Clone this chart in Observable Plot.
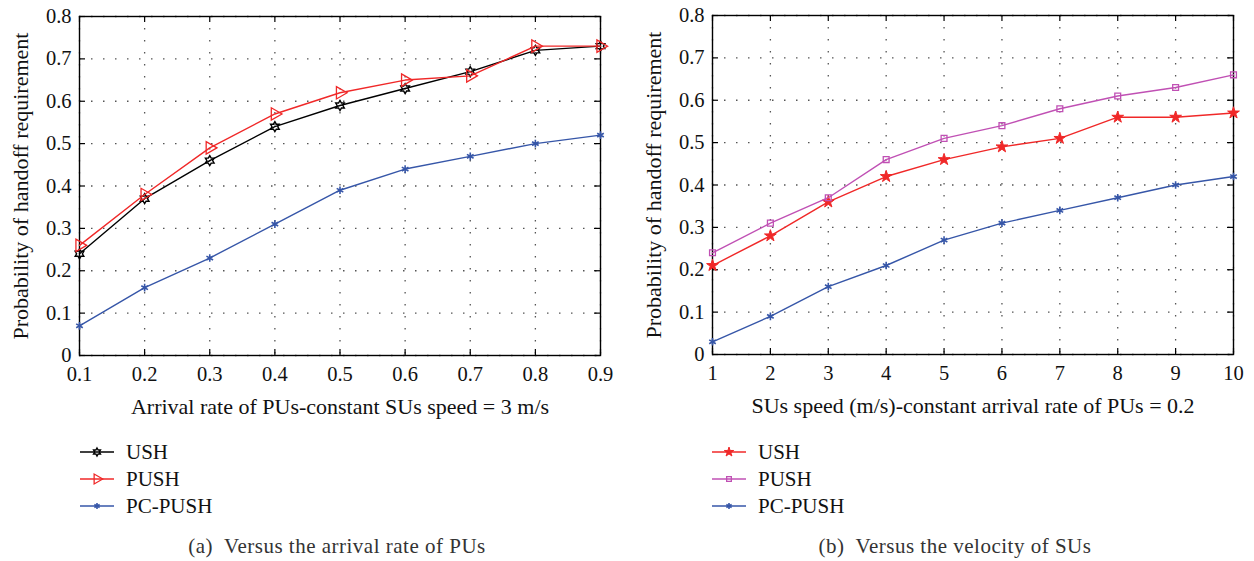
<!DOCTYPE html>
<html>
<head>
<meta charset="utf-8">
<script src="https://cdn.jsdelivr.net/npm/d3@7"></script>
<script src="https://cdn.jsdelivr.net/npm/@observablehq/plot@0.6"></script>
<style>
  html, body { margin: 0; padding: 0; background: #fff; }
  #root { position: relative; width: 1254px; height: 561px; overflow: hidden; font-family: 'Liberation Serif', 'Times New Roman', serif; }
  .panel { position: absolute; top: 0; }
  .leg { position: absolute; font-size: 21px; color: #111; display: flex; align-items: center; height: 24px; }
  .leg svg { margin-right: 12px; }
  .cap { position: absolute; font-size: 21px; letter-spacing: 0.5px; color: #333; white-space: pre; transform: translateX(-50%); }
</style>
</head>
<body>
<div id="root"></div>
<script>
// ---------- data ----------
const xA = [0.1, 0.2, 0.3, 0.4, 0.5, 0.6, 0.7, 0.8, 0.9];
const ushA  = [0.24, 0.37, 0.46, 0.54, 0.59, 0.63, 0.67, 0.72, 0.73];
const pushA = [0.26, 0.38, 0.49, 0.57, 0.62, 0.65, 0.66, 0.73, 0.73];
const pcA   = [0.07, 0.16, 0.23, 0.31, 0.39, 0.44, 0.47, 0.50, 0.52];

const xB = [1, 2, 3, 4, 5, 6, 7, 8, 9, 10];
const ushB  = [0.21, 0.28, 0.36, 0.42, 0.46, 0.49, 0.51, 0.56, 0.56, 0.57];
const pushB = [0.24, 0.31, 0.37, 0.46, 0.51, 0.54, 0.58, 0.61, 0.63, 0.66];
const pcB   = [0.03, 0.09, 0.16, 0.21, 0.27, 0.31, 0.34, 0.37, 0.40, 0.42];

const yTicks = [0, 0.1, 0.2, 0.3, 0.4, 0.5, 0.6, 0.7, 0.8];
const seriesNames = ["USH", "PUSH", "PC-PUSH"];
const yLabel = "Probability of handoff requirement";
const xLabelA = "Arrival rate of PUs-constant SUs speed = 3 m/s";
const xLabelB = "SUs speed (m/s)-constant arrival rate of PUs = 0.2";
const captionA = "(a)\u2002Versus the arrival rate of PUs";
const captionB = "(b)\u2002Versus the velocity of SUs";

// ---------- styles ----------
const BLACK = "#000000", RED = "#f02828", BLUE = "#3656a8", MAGENTA = "#c050b4";

// hexagram (MATLAB 'h') custom symbol
const hexagram = {
  draw(ctx, size) {
    const R = Math.sqrt(size / Math.PI) * 1.25, r = R / Math.sqrt(3);
    for (let i = 0; i < 12; i++) {
      const a = -Math.PI / 2 + i * Math.PI / 6;
      const rr = i % 2 === 0 ? R : r;
      const px = rr * Math.cos(a), py = rr * Math.sin(a);
      if (i === 0) ctx.moveTo(px, py); else ctx.lineTo(px, py);
    }
    ctx.closePath();
  }
};

const stylesA = [
  {name: "USH", values: ushA, color: BLACK, symbol: hexagram, fill: "none", r: 4, sw: 1.4, rotate: 0},
  {name: "PUSH", values: pushA, color: RED, symbol: "triangle", fill: "none", r: 4.6, sw: 1.3, rotate: 90},
  {name: "PC-PUSH", values: pcA, color: BLUE, symbol: "asterisk", fill: "none", r: 3.6, sw: 1.6, rotate: 0}
];
const stylesB = [
  {name: "USH", values: ushB, color: RED, symbol: "star", fill: RED, r: 3.7, sw: 1, rotate: 0},
  {name: "PUSH", values: pushB, color: MAGENTA, symbol: "square", fill: "none", r: 3.3, sw: 1.3, rotate: 0},
  {name: "PC-PUSH", values: pcB, color: BLUE, symbol: "asterisk", fill: "none", r: 3.6, sw: 1.6, rotate: 0}
];

function makeChart({xs, styles, xDomain, xFmt, xLabel, mL, mR, mT, mB}) {
  const W = 627, H = 430;
  const fw = W - mL - mR, fh = H - mT - mB, tl = 6;
  const marks = [
    Plot.gridX(xs, {x: d => d, stroke: "#555", strokeOpacity: 1, strokeWidth: 1.3, strokeDasharray: "1.5,10.5"}),
    Plot.gridY(yTicks, {y: d => d, stroke: "#555", strokeOpacity: 1, strokeWidth: 1.3, strokeDasharray: "1.5,10.5"}),
    Plot.axisX({ticks: xs, tickSize: 0, tickPadding: 11, tickFormat: xFmt, label: null, fontSize: 20.5}),
    Plot.axisY({ticks: yTicks, tickSize: 0, tickPadding: 8, tickFormat: d => d === 0 ? "0" : d3.format(".1f")(d), label: null, fontSize: 20.5}),
    Plot.tickX(xs, {x: d => d, insetTop: fh - tl, stroke: "#000", strokeWidth: 1.2}),
    Plot.tickX(xs, {x: d => d, insetBottom: fh - tl, stroke: "#000", strokeWidth: 1.2}),
    Plot.tickY(yTicks, {y: d => d, insetRight: fw - tl, stroke: "#000", strokeWidth: 1.2}),
    Plot.tickY(yTicks, {y: d => d, insetLeft: fw - tl, stroke: "#000", strokeWidth: 1.2}),
    Plot.frame({stroke: "#000", strokeWidth: 1.4})
  ];
  for (const s of styles) {
    const data = xs.map((x, i) => ({x, y: s.values[i], series: s.name}));
    marks.push(Plot.line(data, {x: "x", y: "y", stroke: s.color, strokeWidth: 1.4}));
    marks.push(Plot.dot(data, {x: "x", y: "y", symbol: () => s.symbol, r: s.r, stroke: s.color, fill: s.fill, strokeWidth: s.sw, rotate: s.rotate}));
  }
  marks.push(Plot.text([xLabel], {text: d => d, frameAnchor: "bottom", dy: 51, lineAnchor: "middle", textAnchor: "middle", fontSize: 22, fill: "#111"}));
  marks.push(Plot.text([yLabel], {text: d => d, frameAnchor: "left", dx: -59, rotate: -90, lineAnchor: "middle", textAnchor: "middle", fontSize: 22, fill: "#111"}));
  return Plot.plot({
    width: W, height: H,
    marginLeft: mL, marginRight: mR, marginTop: mT, marginBottom: mB,
    x: {domain: xDomain}, y: {domain: [0, 0.8]},
    symbol: {type: "identity"},
    style: {fontFamily: "'Liberation Serif', 'Times New Roman', serif", fontSize: "21px", color: "#111", background: "transparent", overflow: "visible"},
    marks
  });
}

const root = document.getElementById("root");

const chartA = makeChart({xs: xA, styles: stylesA, xDomain: [0.1, 0.9], xFmt: d3.format(".1f"), xLabel: xLabelA, mL: 79, mR: 27, mT: 16, mB: 75});
const pa = document.createElement("div"); pa.className = "panel"; pa.style.left = "0px"; pa.appendChild(chartA); root.appendChild(pa);

const chartB = makeChart({xs: xB, styles: stylesB, xDomain: [1, 10], xFmt: d3.format("d"), xLabel: xLabelB, mL: 85, mR: 21, mT: 15, mB: 76});
const pb = document.createElement("div"); pb.className = "panel"; pb.style.left = "627px"; pb.appendChild(chartB); root.appendChild(pb);

// ---------- legends ----------
function symPath(sym, r) {
  const t = typeof sym === "string" ? {triangle: d3.symbolTriangle, star: d3.symbolStar, square: d3.symbolSquare, asterisk: d3.symbolAsterisk}[sym] : sym;
  return d3.symbol(t, r * r * Math.PI)();
}
function legend(styles, left) {
  const rows = [452, 479, 506];
  styles.forEach((s, i) => {
    const d = document.createElement("div");
    d.className = "leg";
    d.style.left = left + "px";
    d.style.top = (rows[i] - 12) + "px";
    const lr = s.r * 0.8;
    d.innerHTML = `<svg width="34" height="20" viewBox="0 0 34 20">
      <line x1="0" x2="34" y1="10" y2="10" stroke="${s.color}" stroke-width="1.5"/>
      <path d="${symPath(s.symbol, lr)}" transform="translate(17,10) rotate(${s.rotate})" fill="${s.fill}" stroke="${s.color}" stroke-width="${s.sw}"/>
    </svg><span>${s.name}</span>`;
    root.appendChild(d);
  });
}
legend(stylesA, 80);
legend(stylesB, 712);

// ---------- captions ----------
function caption(text, cx) {
  const c = document.createElement("div");
  c.className = "cap";
  c.style.left = cx + "px";
  c.style.top = "534px";
  c.textContent = text;
  root.appendChild(c);
}
caption(captionA, 337);
caption(captionB, 955);
</script>
</body>
</html>
